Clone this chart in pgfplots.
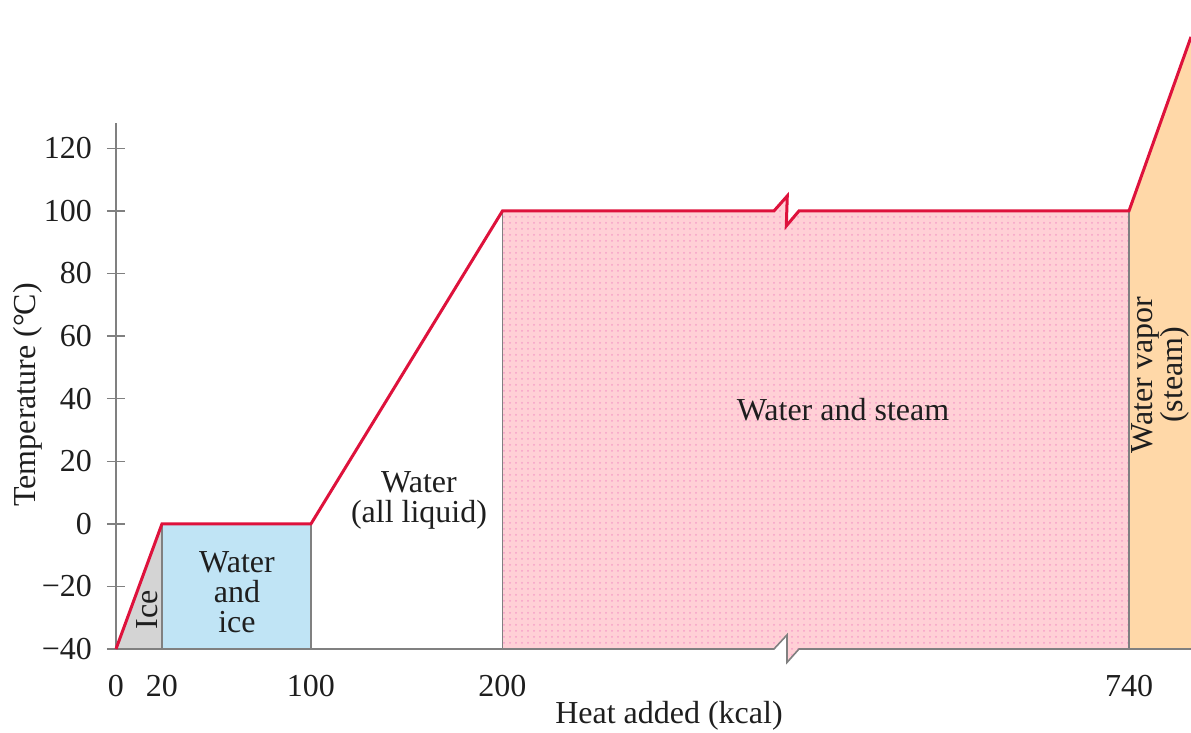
\documentclass[border=0pt]{standalone}
\usepackage{fontspec}
\setmainfont{Liberation Serif}
\usepackage{pgfplots}
\pgfplotsset{compat=1.18}
\usetikzlibrary{patterns}
\definecolor{curve}{RGB}{222,18,60}
\definecolor{axgray}{RGB}{128,128,128}
\definecolor{icegray}{RGB}{212,212,212}
\definecolor{wiblue}{RGB}{192,228,245}
\definecolor{wspink}{RGB}{255,208,214}
\definecolor{wsdot}{RGB}{246,160,200}
\definecolor{vaporange}{RGB}{255,216,168}
\definecolor{txt}{RGB}{30,30,30}
\begin{document}
\begin{tikzpicture}
\begin{axis}[name=ax,
  scale only axis, width=537.5pt, height=324.5pt,
  xmin=0, xmax=1075, ymin=-40, ymax=167.4,
  axis lines=left,
  axis line style={draw=none},
  clip=false,
  xtick={0,46,195,386.5,1013}, xticklabels={0,20,100,200,740},
  x tick style={draw=none},
  ytick={-40,-20,0,20,40,60,80,100,120},
  yticklabels={−40,−20,0,20,40,60,80,100,120},
  tick align=center, major tick length=9pt,
  y tick style={axgray, line width=0.7pt},
  font=\fontsize{16}{15}\selectfont,
  tick label style={text=txt},
  yticklabel style={xshift=-4pt},
  xticklabel style={yshift=-5pt},
  xlabel={Heat added (kcal)},
  ylabel={Temperature (°\kern-0.04em C)},
  xlabel style={at={(axis cs:553,-61.4)}, anchor=center, text=txt},
  ylabel style={at={(axis cs:-88,41.2)}, anchor=center, rotate=0, text=txt},
]
% regions
\addplot[draw=none, fill=icegray] coordinates {(0,-40) (46,0) (46,-40)} -- cycle;
\addplot[draw=none, fill=wiblue] coordinates {(46,-40) (46,0) (195,0) (195,-40)} -- cycle;
\addplot[draw=none, fill=wspink, postaction={pattern=dots, pattern color=wsdot}] coordinates {(386.5,-40) (386.5,100) (658,100) (671.3,104.8) (670.3,95.2) (683,100) (1013,100) (1013,-40) (683,-40) (671,-44.3) (671,-35.5) (658,-40)} -- cycle;
\addplot[draw=none, fill=vaporange] coordinates {(1013,-40) (1013,100) (1075,155.6) (1075,-40)} -- cycle;
% region borders
\addplot[axgray, line width=0.8pt] coordinates {(46,-40) (46,0)};
\addplot[axgray, line width=0.8pt] coordinates {(195,-40) (195,0)};
\addplot[axgray, line width=0.8pt] coordinates {(386.5,-40) (386.5,100)};
\addplot[axgray, line width=0.8pt] coordinates {(1013,-40) (1013,100)};
% axes
\addplot[axgray, line width=0.8pt] coordinates {(0,-40) (0,128)};
\addplot[axgray, line width=0.8pt] coordinates {(-4.5,-40) (658,-40) (671,-35.5) (671,-44.3) (683,-40) (1075,-40)};
% heating curve
\addplot[curve, line width=1.5pt, line join=miter] coordinates {(0,-40) (46,0) (195,0) (386.5,100) (658,100) (671.3,104.8) (670.3,95.2) (683,100) (1013,100) (1075,155.6)};
% labels
\node[text=txt, rotate=90] at (axis cs:31,-27.5) {Ice};
\node[text=txt, align=center] at (axis cs:121,-21.8) {Water\\and\\ice};
\node[text=txt, align=center] at (axis cs:303,7.6) {Water\\(all liquid)};
\node[text=txt] at (axis cs:727,36.4) {Water and steam};
\node[text=txt, align=center, rotate=90] at (axis cs:1044,47.6) {Water vapor\\(steam)};
\end{axis}
\pgfresetboundingbox
\path[use as bounding box] ([xshift=-58pt,yshift=-42pt]ax.south west) rectangle (ax.north east);
\end{tikzpicture}
\end{document}
